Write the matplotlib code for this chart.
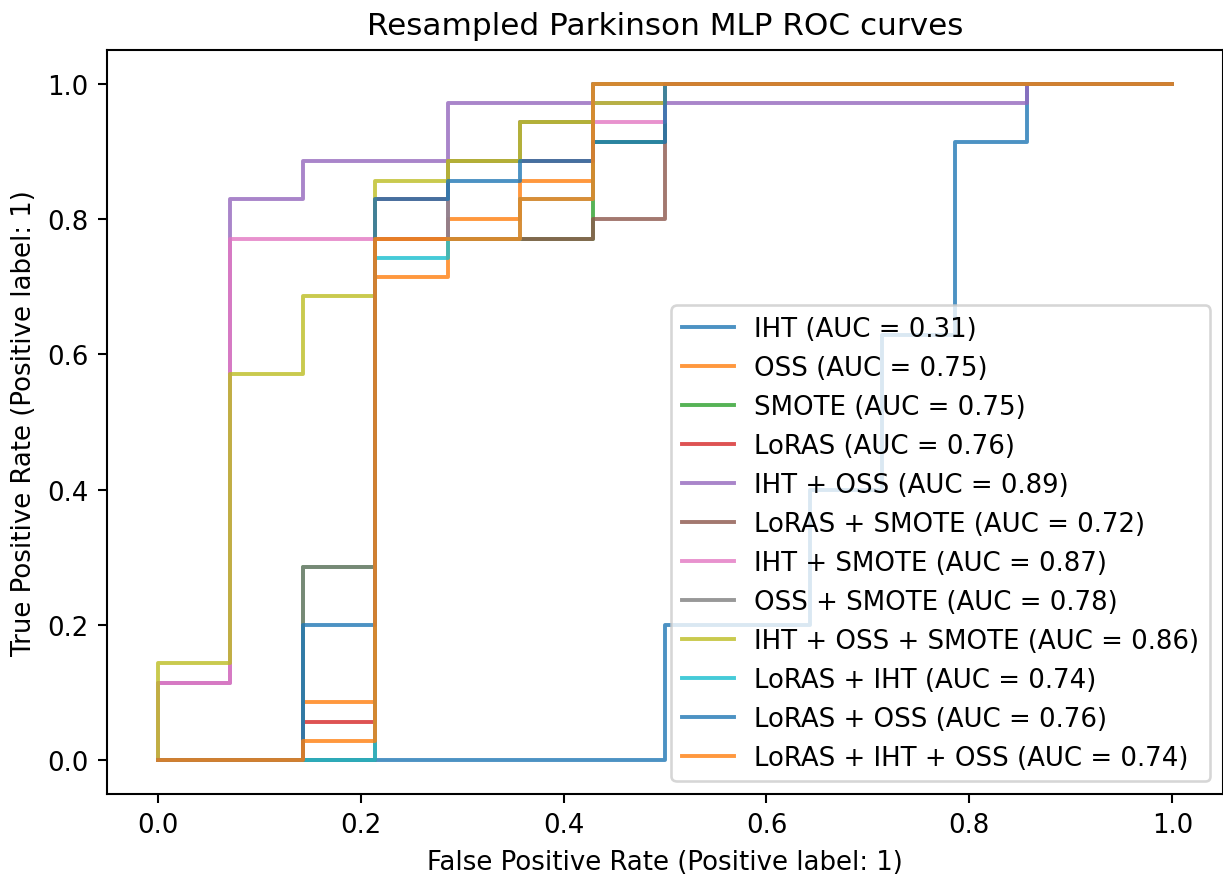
import matplotlib
matplotlib.use("Agg")
import matplotlib.pyplot as plt

# ROC corner points (14 negatives, 35 positives)
labels = ["IHT", "OSS", "SMOTE", "LoRAS", "IHT + OSS", "LoRAS + SMOTE",
          "IHT + SMOTE", "OSS + SMOTE", "IHT + OSS + SMOTE", "LoRAS + IHT",
          "LoRAS + OSS", "LoRAS + IHT + OSS"]
aucs = [0.31, 0.75, 0.75, 0.76, 0.89, 0.72, 0.87, 0.78, 0.86, 0.74, 0.76, 0.74]

fpr_iht = [0, 0.5, 0.5, 0.643, 0.643, 0.714, 0.714, 0.786, 0.786, 0.857, 0.857, 1]
tpr_iht = [0, 0, 0.2, 0.2, 0.4, 0.4, 0.629, 0.629, 0.914, 0.914, 1, 1]

fpr_oss = [0, 0.143, 0.143, 0.214, 0.214, 0.286, 0.286, 0.357, 0.357, 0.429, 0.429, 1]
tpr_oss = [0, 0, 0.086, 0.086, 0.714, 0.714, 0.8, 0.8, 0.857, 0.857, 1, 1]

fpr_smote = [0, 0.143, 0.143, 0.214, 0.214, 0.429, 0.429, 0.5, 0.5, 1]
tpr_smote = [0, 0, 0.286, 0.286, 0.771, 0.771, 0.914, 0.914, 1, 1]

fpr_loras = [0, 0.143, 0.143, 0.214, 0.214, 0.286, 0.286, 0.429, 0.429, 1]
tpr_loras = [0, 0, 0.057, 0.057, 0.829, 0.829, 0.886, 0.886, 1, 1]

fpr_iht_oss = [0, 0, 0.071, 0.071, 0.143, 0.143, 0.286, 0.286, 0.857, 0.857, 1]
tpr_iht_oss = [0, 0.114, 0.114, 0.829, 0.829, 0.886, 0.886, 0.971, 0.971, 1, 1]

fpr_loras_smote = [0, 0.214, 0.214, 0.429, 0.429, 0.5, 0.5, 1]
tpr_loras_smote = [0, 0, 0.771, 0.771, 0.8, 0.8, 1, 1]

fpr_iht_smote = [0, 0, 0.071, 0.071, 0.286, 0.286, 0.357, 0.357, 0.5, 0.5, 1]
tpr_iht_smote = [0, 0.114, 0.114, 0.771, 0.771, 0.886, 0.886, 0.943, 0.943, 1, 1]

fpr_oss_smote = [0, 0.143, 0.143, 0.214, 0.214, 0.286, 0.286, 0.357, 0.357, 0.429, 0.429, 1]
tpr_oss_smote = [0, 0, 0.286, 0.286, 0.771, 0.771, 0.886, 0.886, 0.943, 0.943, 1, 1]

fpr_iht_oss_smote = [0, 0, 0.071, 0.071, 0.143, 0.143, 0.214, 0.214, 0.286, 0.286,
                     0.357, 0.357, 0.429, 0.429, 0.5, 0.5, 1]
tpr_iht_oss_smote = [0, 0.143, 0.143, 0.571, 0.571, 0.686, 0.686, 0.857, 0.857, 0.886,
                     0.886, 0.943, 0.943, 0.971, 0.971, 1, 1]

fpr_loras_iht = [0, 0.214, 0.214, 0.286, 0.286, 0.357, 0.357, 0.429, 0.429, 1]
tpr_loras_iht = [0, 0, 0.743, 0.743, 0.771, 0.771, 0.829, 0.829, 1, 1]

fpr_loras_oss = [0, 0.143, 0.143, 0.214, 0.214, 0.286, 0.286, 0.357, 0.357, 0.429,
                 0.429, 0.5, 0.5, 1]
tpr_loras_oss = [0, 0, 0.2, 0.2, 0.829, 0.829, 0.857, 0.857, 0.886, 0.886,
                 0.914, 0.914, 1, 1]

fpr_loras_iht_oss = [0, 0.143, 0.143, 0.214, 0.214, 0.357, 0.357, 0.429, 0.429, 1]
tpr_loras_iht_oss = [0, 0, 0.029, 0.029, 0.771, 0.771, 0.829, 0.829, 1, 1]

fprs = [fpr_iht, fpr_oss, fpr_smote, fpr_loras, fpr_iht_oss, fpr_loras_smote,
        fpr_iht_smote, fpr_oss_smote, fpr_iht_oss_smote, fpr_loras_iht,
        fpr_loras_oss, fpr_loras_iht_oss]
tprs = [tpr_iht, tpr_oss, tpr_smote, tpr_loras, tpr_iht_oss, tpr_loras_smote,
        tpr_iht_smote, tpr_oss_smote, tpr_iht_oss_smote, tpr_loras_iht,
        tpr_loras_oss, tpr_loras_iht_oss]

dpi = 187
fig = plt.figure(figsize=(1223 / dpi, 877 / dpi), dpi=dpi)
ax = fig.add_axes([107 / 1223, 1 - 795 / 877, 1116 / 1223, 744 / 877])

for fpr, tpr, name, auc in zip(fprs, tprs, labels, aucs):
    ax.plot(fpr, tpr, alpha=0.8, label=f"{name} (AUC = {auc:.2f})")

ax.set_xlabel("False Positive Rate (Positive label: 1)")
ax.set_ylabel("True Positive Rate (Positive label: 1)")
ax.set_title("Resampled Parkinson MLP ROC curves")
ax.legend(loc="lower right")

fig.savefig("out.png", dpi=dpi)
